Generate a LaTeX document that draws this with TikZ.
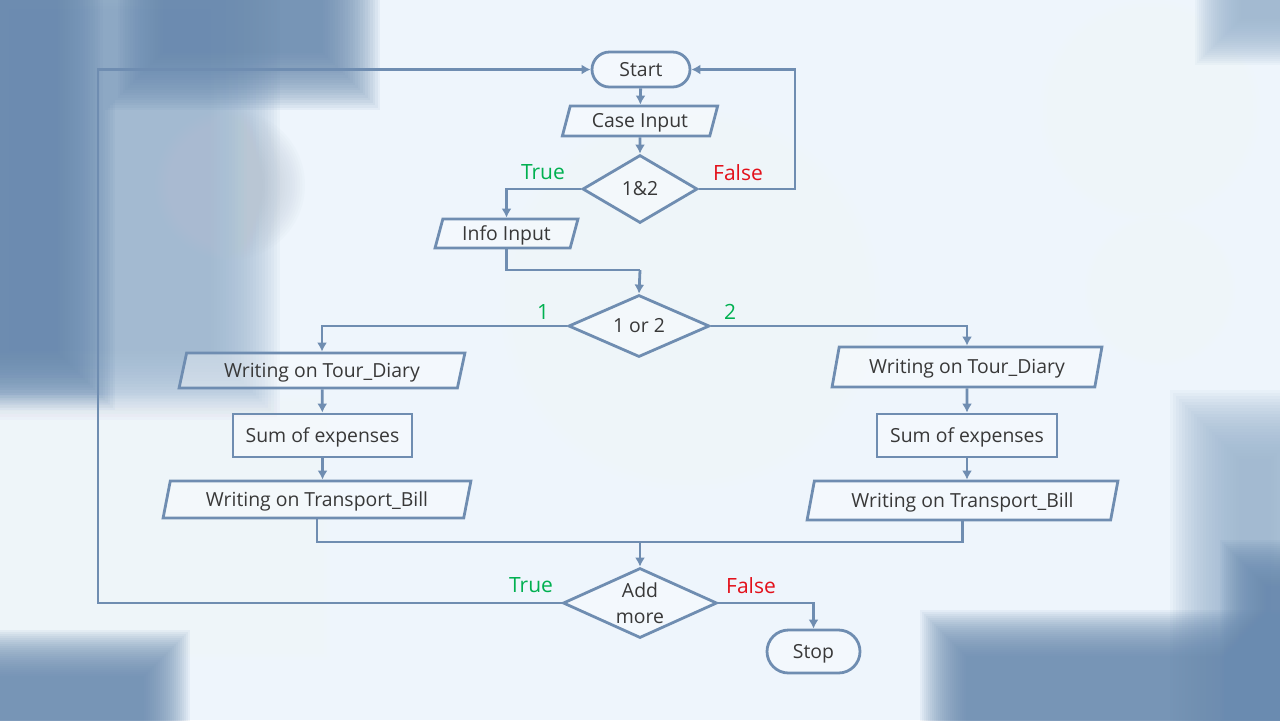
\documentclass[tikz,border=0pt]{standalone}
\usepackage{fontspec}
\setmainfont{Open Sans}
\usepackage{tikz}
\usetikzlibrary{shapes.geometric, shapes.misc, arrows.meta, positioning}
\tikzset{>={Latex[length=4.5pt,width=5pt]}}
\definecolor{flowline}{HTML}{6F8DB1}
\definecolor{flowtext}{HTML}{383838}
\definecolor{truegreen}{HTML}{00B050}
\definecolor{falsered}{HTML}{E3101A}
\definecolor{bgbase}{HTML}{EEF5FC}
\definecolor{bgdeep}{HTML}{6A8BB0}
\definecolor{bgmid}{HTML}{9DB6D1}
\definecolor{bgpale}{HTML}{F6F7F9}
\definecolor{bggrey}{HTML}{B9C6D4}
% soft background patches: colour, x1, y1, x2, y2, step
\newcommand{\blurbox}[6]{%
  \foreach \i in {0,...,23}{
    \fill[#1, opacity=0.08] ({#2+\i*#6},{#3+\i*#6}) rectangle ({#4-\i*#6},{#5-\i*#6});
  }}
\newcommand{\blurdisc}[5]{%
  \foreach \i in {0,...,23}{
    \fill[#1, opacity=0.06] (#2,#3) circle[radius={#4-\i*#5}];
  }}

\begin{document}
\begin{tikzpicture}[x=0.5pt, y=-0.5pt,
  box/.style={draw=flowline, line width=1.4pt, fill=white, fill opacity=0.35, text opacity=1,
    text=flowtext, font=\fontsize{9.7}{13}\selectfont, inner sep=0pt},
  oneline/.style={text height=8.9pt, text depth=2pt},
  termnode/.style={box, oneline, rounded rectangle},
  dataio/.style={box, oneline, trapezium, trapezium left angle=76, trapezium right angle=104, trapezium stretches=true},
  procbox/.style={box, oneline, rectangle},
  decide/.style={box, diamond, shape aspect=2, align=center},
  arr/.style={->, draw=flowline, line width=1.4pt},
  link/.style={draw=flowline, line width=1.4pt},
  yes/.style={text=truegreen, font=\fontsize{10.5}{12}\selectfont, inner sep=0pt},
  no/.style={text=falsered, font=\fontsize{10.5}{12}\selectfont, inner sep=0pt}]

% background
\useasboundingbox (0,0) rectangle (1280,720);
\fill[bgbase] (0,0) rectangle (1280,720);
\blurbox{bgmid}{-60}{-60}{280}{420}{3}
\blurbox{bgdeep}{-60}{-60}{115}{410}{2.5}
\blurbox{bgdeep}{105}{-60}{380}{110}{2.5}
\blurdisc{bggrey}{230}{185}{75}{2.5}
\blurbox{bgpale}{-60}{395}{330}{660}{3}
\blurbox{bgdeep}{-60}{630}{190}{780}{2}
\blurdisc{bgpale}{690}{300}{190}{5}
\blurdisc{bgpale}{1150}{110}{110}{3.5}
\blurdisc{bgpale}{1160}{290}{75}{2.5}
\blurbox{bgmid}{1170}{390}{1340}{780}{3}
\blurbox{bgdeep}{920}{610}{1340}{780}{2}
\blurbox{bgdeep}{1220}{540}{1340}{780}{2}
\blurbox{bgmid}{1195}{-60}{1340}{65}{2}

% flow nodes
\node[termnode, minimum width=49pt, minimum height=17.5pt] (start) at (641,69.5) {Start};
\node[dataio, minimum width=78pt, minimum height=15pt] (caseIn) at (640,121) {Case Input};
\node[decide, minimum width=57.5pt, minimum height=34pt] (chk) at (640,189) {1\&2};
\node[dataio, minimum width=71.5pt, minimum height=14.5pt] (infoIn) at (506.5,233.5) {Info Input};
\node[decide, minimum width=70.5pt, minimum height=31pt] (pick) at (639,326) {1 or 2};

\node[dataio, minimum width=143pt, minimum height=17.5pt] (diaryA) at (322,370.5) {Writing on Tour\_Diary};
\node[procbox, minimum width=89.5pt, minimum height=21.5pt] (sumA) at (322.5,435.5) {Sum of expenses};
\node[dataio, minimum width=154pt, minimum height=18.5pt] (billA) at (317,499.5) {Writing on Transport\_Bill};

\node[dataio, minimum width=135pt, minimum height=20pt] (diaryB) at (967,367) {Writing on Tour\_Diary};
\node[procbox, minimum width=90pt, minimum height=21.5pt] (sumB) at (967,435.5) {Sum of expenses};
\node[dataio, minimum width=155.5pt, minimum height=19.5pt] (billB) at (962.5,500.5) {Writing on Transport\_Bill};

\node[decide, minimum width=77pt, minimum height=35pt] (more) at (640,603) {Add\\more};
\node[termnode, minimum width=46.5pt, minimum height=21.5pt] (stop) at (813.5,651.5) {Stop};

% branch labels
\node[yes] (chkT) at (543,172) {True};
\node[no] (chkF) at (738,173) {False};
\node[yes] (pickA) at (543,312) {1};
\node[yes] (pickB) at (730,312) {2};
\node[yes] (moreT) at (531,585) {True};
\node[no] (moreF) at (751,586) {False};

% corners of the loops
\coordinate (loopR) at (795,69.5);
\coordinate (loopL) at (98,69.5);
\coordinate (join) at (640,270);
\coordinate (merge) at (640,542);

% connectors
\draw[arr] (start) -- (caseIn);
\draw[arr] (caseIn) -- (chk);
\draw[arr] (chk.west) -| (infoIn.north);
\draw[arr] (chk.east) -| (loopR) -- (start.east);
\draw[link] (infoIn.south) |- (join);
\draw[arr] (join) -- (pick.north);
\draw[arr] (pick.west) -| (diaryA.north);
\draw[arr] (pick.east) -| (diaryB.north);
\draw[arr] (diaryA) -- (sumA);
\draw[arr] (sumA.south) -- (sumA.south |- billA.north);
\draw[arr] (diaryB) -- (sumB);
\draw[arr] (sumB.south) -- (sumB.south |- billB.north);
\draw[link] (billA.south) |- (merge);
\draw[link] (billB.south) |- (merge);
\draw[arr] (merge) -- (more.north);
\draw[arr] (more.east) -| (stop.north);
\draw[arr] (more.west) -| (loopL) -- (start.west);

\end{tikzpicture}
\end{document}
